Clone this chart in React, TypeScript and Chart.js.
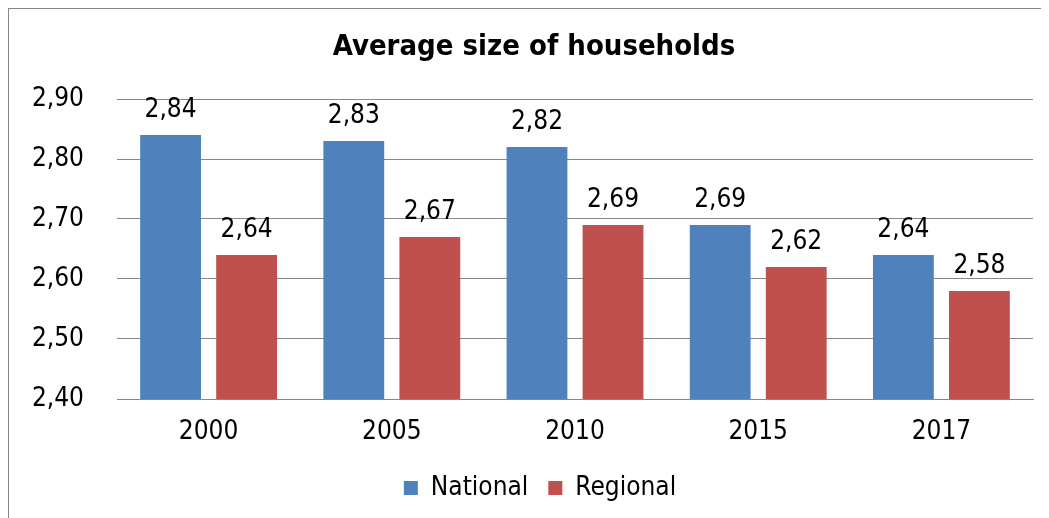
import React, { useEffect, useRef } from "react";
import { Chart, registerables } from "chart.js";

Chart.register(...registerables);

const categories = ["2000", "2005", "2010", "2015", "2017"];
const nationalValues = [2.84, 2.83, 2.82, 2.69, 2.64];
const regionalValues = [2.64, 2.67, 2.69, 2.62, 2.58];
const yTickValues = [2.4, 2.5, 2.6, 2.7, 2.8, 2.9];
const seriesNames = ["National", "Regional"];
const titleText = "Average size of households";

const FONT = "'DejaVu Sans Condensed', 'DejaVu Sans', sans-serif";
const fmt = (v: number) => v.toFixed(2).replace(".", ",");

const valueLabels = {
  id: "valueLabels",
  afterDatasetsDraw(chart: any) {
    const ctx = chart.ctx;
    ctx.save();
    ctx.font = `26px ${FONT}`;
    ctx.fillStyle = "#000";
    ctx.textAlign = "center";
    ctx.textBaseline = "alphabetic";
    chart.data.datasets.forEach((ds: any, i: number) => {
      chart.getDatasetMeta(i).data.forEach((el: any, j: number) => {
        ctx.fillText(fmt(ds.data[j]), el.x, el.y - 18);
      });
    });
    ctx.restore();
  },
};

const shiftBoxes = {
  id: "shiftBoxes",
  afterLayout(chart: any) {
    const l = chart.legend;
    if (l) {
      l.left += 19;
      l.right += 19;
    }
    const t = chart.titleBlock;
    if (t) {
      t.left += 13;
      t.right += 13;
    }
  },
};

export default function App() {
  const ref = useRef<HTMLCanvasElement>(null);
  useEffect(() => {
    if (!ref.current) return;
    Chart.defaults.font.family = FONT;
    Chart.defaults.color = "#000";
    const chart = new Chart(ref.current, {
      type: "bar",
      data: {
        labels: categories,
        datasets: [
          {
            label: seriesNames[0],
            data: nationalValues,
            backgroundColor: "#4F81BD",
            borderWidth: 0,
            categoryPercentage: 0.83,
            barPercentage: 0.8,
          },
          {
            label: seriesNames[1],
            data: regionalValues,
            backgroundColor: "#C0504D",
            borderWidth: 0,
            categoryPercentage: 0.83,
            barPercentage: 0.8,
          },
        ],
      },
      options: {
        responsive: false,
        animation: false,
        devicePixelRatio: 1,
        layout: { padding: { left: 0, right: 16, top: 0, bottom: 7 } },
        plugins: {
          title: {
            display: true,
            text: titleText,
            color: "#000",
            font: { size: 29, weight: "bold", family: FONT },
            padding: { top: 21, bottom: 34.2 },
          },
          legend: {
            position: "bottom",
            labels: {
              boxWidth: 14,
              boxHeight: 14,
              padding: 20,
              color: "#000",
              font: { size: 26, family: FONT },
            },
          },
          tooltip: { enabled: false },
        },
        scales: {
          x: {
            grid: { display: false, drawTicks: false },
            border: { display: true, color: "#878787", width: 1 },
            ticks: { padding: 18, font: { size: 26, family: FONT }, color: "#000" },
            afterFit: (s: any) => {
              s.height = 56;
            },
          },
          y: {
            min: 2.4,
            max: 2.9,
            grid: { color: "#878787", drawTicks: false, lineWidth: 1 },
            border: { display: false },
            afterBuildTicks: (s: any) => {
              s.ticks = yTickValues.map((v) => ({ value: v }));
            },
            afterFit: (s: any) => {
              s.width = 108;
            },
            ticks: {
              padding: 33,
              font: { size: 26, family: FONT },
              color: "#000",
              callback: (v: any) => fmt(Number(v)),
            },
          },
        },
      },
      plugins: [valueLabels, shiftBoxes],
    });
    return () => chart.destroy();
  }, []);
  return (
    <div
      style={{
        borderLeft: "1px solid #868686",
        borderTop: "1px solid #868686",
        height: 509,
        marginRight: -8,
      }}
    >
      <canvas ref={ref} width={1040} height={509} style={{ display: "block", width: 1040, height: 509 }} />
    </div>
  );
}
